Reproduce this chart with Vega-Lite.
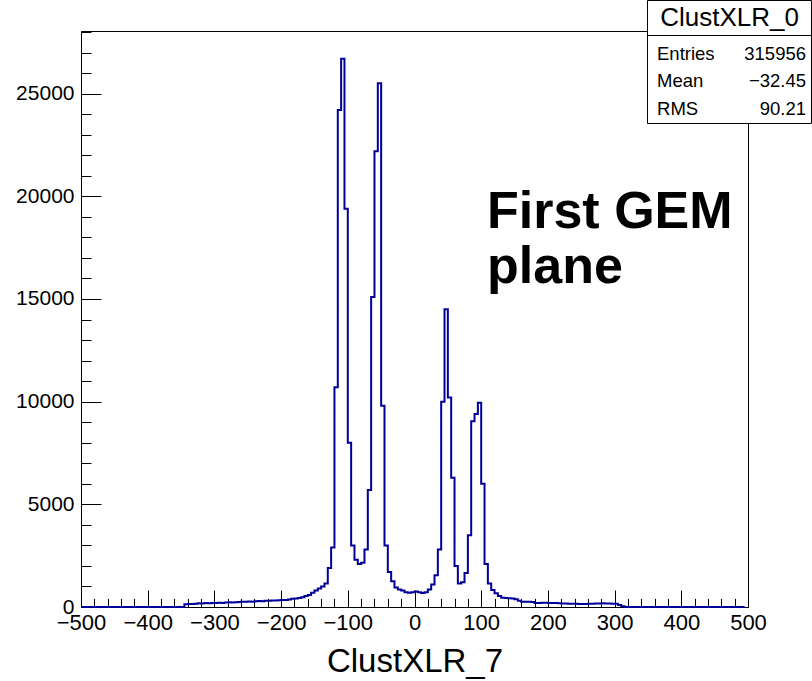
{
  "$schema": "https://vega.github.io/schema/vega-lite/v6.json",
  "width": 667,
  "height": 576,
  "autosize": {"type": "none"},
  "padding": {"left": 81, "top": 31, "right": 64, "bottom": 74},
  "background": "white",
  "config": {
    "view": {"stroke": "black", "strokeWidth": 1},
    "font": "Liberation Sans",
    "axis": {"domainColor": "black", "tickColor": "black", "labelColor": "black", "titleColor": "black", "grid": false, "labelFont": "Liberation Sans", "titleFont": "Liberation Sans", "titleFontWeight": "normal", "zindex": 1}
  },
  "datasets": {
    "hist": [
      {"x": -500, "n": 0}, {"x": -495, "n": 0}, {"x": -490, "n": 0}, {"x": -485, "n": 0}, {"x": -480, "n": 0},
      {"x": -475, "n": 0}, {"x": -470, "n": 0}, {"x": -465, "n": 0}, {"x": -460, "n": 0}, {"x": -455, "n": 0},
      {"x": -450, "n": 0}, {"x": -445, "n": 0}, {"x": -440, "n": 0}, {"x": -435, "n": 0}, {"x": -430, "n": 0},
      {"x": -425, "n": 0}, {"x": -420, "n": 0}, {"x": -415, "n": 0}, {"x": -410, "n": 0}, {"x": -405, "n": 0},
      {"x": -400, "n": 0}, {"x": -395, "n": 0}, {"x": -390, "n": 0}, {"x": -385, "n": 0}, {"x": -380, "n": 0},
      {"x": -375, "n": 0}, {"x": -370, "n": 0}, {"x": -365, "n": 0}, {"x": -360, "n": 0}, {"x": -355, "n": 0},
      {"x": -350, "n": 0}, {"x": -345, "n": 130}, {"x": -340, "n": 150}, {"x": -335, "n": 150}, {"x": -330, "n": 160},
      {"x": -325, "n": 180}, {"x": -320, "n": 170}, {"x": -315, "n": 190}, {"x": -310, "n": 180}, {"x": -305, "n": 200},
      {"x": -300, "n": 195}, {"x": -295, "n": 210}, {"x": -290, "n": 200}, {"x": -285, "n": 220}, {"x": -280, "n": 230},
      {"x": -275, "n": 215}, {"x": -270, "n": 235}, {"x": -265, "n": 240}, {"x": -260, "n": 255}, {"x": -255, "n": 250},
      {"x": -250, "n": 265}, {"x": -245, "n": 260}, {"x": -240, "n": 280}, {"x": -235, "n": 290}, {"x": -230, "n": 275},
      {"x": -225, "n": 300}, {"x": -220, "n": 310}, {"x": -215, "n": 320}, {"x": -210, "n": 315}, {"x": -205, "n": 330},
      {"x": -200, "n": 340}, {"x": -195, "n": 345}, {"x": -190, "n": 360}, {"x": -185, "n": 400}, {"x": -180, "n": 420},
      {"x": -175, "n": 440}, {"x": -170, "n": 480}, {"x": -165, "n": 540}, {"x": -160, "n": 580}, {"x": -155, "n": 700},
      {"x": -150, "n": 800}, {"x": -145, "n": 900}, {"x": -140, "n": 1000}, {"x": -135, "n": 1150}, {"x": -130, "n": 1900},
      {"x": -125, "n": 2900}, {"x": -120, "n": 10700}, {"x": -115, "n": 24200}, {"x": -110, "n": 26700}, {"x": -105, "n": 19400},
      {"x": -100, "n": 8000}, {"x": -95, "n": 3000}, {"x": -90, "n": 2300}, {"x": -85, "n": 2100}, {"x": -80, "n": 2150},
      {"x": -75, "n": 2800}, {"x": -70, "n": 5700}, {"x": -65, "n": 15100}, {"x": -60, "n": 22200}, {"x": -55, "n": 25500},
      {"x": -50, "n": 9800}, {"x": -45, "n": 3000}, {"x": -40, "n": 1700}, {"x": -35, "n": 1250}, {"x": -30, "n": 950},
      {"x": -25, "n": 850}, {"x": -20, "n": 800}, {"x": -15, "n": 720}, {"x": -10, "n": 700}, {"x": -5, "n": 720},
      {"x": 0, "n": 760}, {"x": 5, "n": 720}, {"x": 10, "n": 680}, {"x": 15, "n": 720}, {"x": 20, "n": 850},
      {"x": 25, "n": 1100}, {"x": 30, "n": 1550}, {"x": 35, "n": 2800}, {"x": 40, "n": 10000}, {"x": 45, "n": 14500},
      {"x": 50, "n": 10200}, {"x": 55, "n": 6300}, {"x": 60, "n": 2000}, {"x": 65, "n": 1150}, {"x": 70, "n": 1200},
      {"x": 75, "n": 1650}, {"x": 80, "n": 3500}, {"x": 85, "n": 9050}, {"x": 90, "n": 9400}, {"x": 95, "n": 9950},
      {"x": 100, "n": 6000}, {"x": 105, "n": 2100}, {"x": 110, "n": 1150}, {"x": 115, "n": 830}, {"x": 120, "n": 670},
      {"x": 125, "n": 540}, {"x": 130, "n": 450}, {"x": 135, "n": 440}, {"x": 140, "n": 430}, {"x": 145, "n": 420},
      {"x": 150, "n": 380}, {"x": 155, "n": 300}, {"x": 160, "n": 260}, {"x": 165, "n": 260}, {"x": 170, "n": 250},
      {"x": 175, "n": 240}, {"x": 180, "n": 200}, {"x": 185, "n": 190}, {"x": 190, "n": 210}, {"x": 195, "n": 210},
      {"x": 200, "n": 200}, {"x": 205, "n": 200}, {"x": 210, "n": 190}, {"x": 215, "n": 180}, {"x": 220, "n": 170},
      {"x": 225, "n": 170}, {"x": 230, "n": 160}, {"x": 235, "n": 160}, {"x": 240, "n": 160}, {"x": 245, "n": 150},
      {"x": 250, "n": 150}, {"x": 255, "n": 150}, {"x": 260, "n": 160}, {"x": 265, "n": 160}, {"x": 270, "n": 170},
      {"x": 275, "n": 170}, {"x": 280, "n": 180}, {"x": 285, "n": 170}, {"x": 290, "n": 170}, {"x": 295, "n": 160},
      {"x": 300, "n": 160}, {"x": 305, "n": 100}, {"x": 310, "n": 40}, {"x": 315, "n": 0}, {"x": 320, "n": 0},
      {"x": 325, "n": 0}, {"x": 330, "n": 0}, {"x": 335, "n": 0}, {"x": 340, "n": 0}, {"x": 345, "n": 0},
      {"x": 350, "n": 0}, {"x": 355, "n": 0}, {"x": 360, "n": 0}, {"x": 365, "n": 0}, {"x": 370, "n": 0},
      {"x": 375, "n": 0}, {"x": 380, "n": 0}, {"x": 385, "n": 0}, {"x": 390, "n": 0}, {"x": 395, "n": 0},
      {"x": 400, "n": 0}, {"x": 405, "n": 0}, {"x": 410, "n": 0}, {"x": 415, "n": 0}, {"x": 420, "n": 0},
      {"x": 425, "n": 0}, {"x": 430, "n": 0}, {"x": 435, "n": 0}, {"x": 440, "n": 0}, {"x": 445, "n": 0},
      {"x": 450, "n": 0}, {"x": 455, "n": 0}, {"x": 460, "n": 0}, {"x": 465, "n": 0}, {"x": 470, "n": 0},
      {"x": 475, "n": 0}, {"x": 480, "n": 0}, {"x": 485, "n": 0}, {"x": 490, "n": 0}, {"x": 495, "n": 0}
    ]
  },
  "data": {"name": "hist"},
  "resolve": {"axis": {"x": "independent", "y": "independent"}},
  "layer": [
    {
      "mark": {"type": "line", "interpolate": "step-after", "color": "#000099", "strokeWidth": 2},
      "encoding": {
        "x": {
          "field": "x", "type": "quantitative",
          "scale": {"domain": [-500, 500], "nice": false, "zero": false},
          "axis": {"orient": "bottom", "values": [-500, -400, -300, -200, -100, 0, 100, 200, 300, 400, 500], "tickSize": -17, "labelFontSize": 22, "labelPadding": 22, "labelFlush": false, "labelOverlap": false, "format": "d", "title": "ClustXLR_7", "titleFontSize": 33, "titlePadding": 12}
        },
        "y": {
          "field": "n", "type": "quantitative",
          "scale": {"domain": [0, 28050], "nice": false, "zero": true},
          "axis": {"orient": "left", "values": [0, 5000, 10000, 15000, 20000, 25000], "tickSize": -20, "labelFontSize": 21, "labelPadding": 27, "labelFlush": false, "labelOverlap": false, "format": "d", "title": null}
        }
      }
    },
    {
      "mark": {"type": "line", "interpolate": "step-after", "strokeOpacity": 0},
      "encoding": {
        "x": {
          "field": "x", "type": "quantitative",
          "axis": {"orient": "bottom", "values": [-500, -480, -460, -440, -420, -400, -380, -360, -340, -320, -300, -280, -260, -240, -220, -200, -180, -160, -140, -120, -100, -80, -60, -40, -20, 0, 20, 40, 60, 80, 100, 120, 140, 160, 180, 200, 220, 240, 260, 280, 300, 320, 340, 360, 380, 400, 420, 440, 460, 480, 500], "tickSize": -8.6, "labels": false, "domain": false, "title": null}
        },
        "y": {
          "field": "n", "type": "quantitative",
          "axis": {"orient": "left", "values": [0, 1000, 2000, 3000, 4000, 5000, 6000, 7000, 8000, 9000, 10000, 11000, 12000, 13000, 14000, 15000, 16000, 17000, 18000, 19000, 20000, 21000, 22000, 23000, 24000, 25000, 26000, 27000, 28000], "tickSize": -10, "labels": false, "domain": false, "title": null}
        }
      }
    },
    {
      "data": {"values": [{}]},
      "mark": {"type": "text", "text": "First GEM\nplane", "lineBreak": "\n", "lineHeight": 55, "font": "Liberation Sans", "fontWeight": "bold", "fontSize": 52, "align": "left", "baseline": "alphabetic", "color": "black"},
      "encoding": {
        "x": {"datum": 108.7, "type": "quantitative", "axis": null},
        "y": {"datum": 18457, "type": "quantitative", "axis": null}
      }
    },
    {
      "data": {"values": [{}]},
      "mark": {"type": "rect", "fill": "white", "stroke": "black", "strokeWidth": 1},
      "encoding": {
        "x": {"datum": 349.3, "type": "quantitative", "axis": null},
        "x2": {"datum": 595.2},
        "y": {"datum": 29535, "type": "quantitative", "axis": null},
        "y2": {"datum": 23546}
      }
    },
    {
      "data": {"values": [{}]},
      "mark": {"type": "rule", "stroke": "black", "strokeWidth": 1},
      "encoding": {
        "x": {"datum": 349.3, "type": "quantitative", "axis": null},
        "x2": {"datum": 595.2},
        "y": {"datum": 27831, "type": "quantitative", "axis": null}
      }
    },
    {
      "data": {"values": [{}]},
      "mark": {"type": "text", "text": "ClustXLR_0", "font": "Liberation Sans", "fontSize": 26, "align": "center", "baseline": "middle", "color": "black"},
      "encoding": {
        "x": {"datum": 472.3, "type": "quantitative", "axis": null},
        "y": {"datum": 28683, "type": "quantitative", "axis": null}
      }
    },
    {
      "data": {"values": [{}]},
      "mark": {"type": "text", "text": "Entries\nMean\nRMS", "lineBreak": "\n", "lineHeight": 27.5, "font": "Liberation Sans", "fontSize": 18.5, "align": "left", "baseline": "middle", "color": "black"},
      "encoding": {
        "x": {"datum": 363.6, "type": "quantitative", "axis": null},
        "y": {"datum": 26930, "type": "quantitative", "axis": null}
      }
    },
    {
      "data": {"values": [{}]},
      "mark": {"type": "text", "text": "315956\n−32.45\n90.21", "lineBreak": "\n", "lineHeight": 27.5, "font": "Liberation Sans", "fontSize": 18.5, "align": "right", "baseline": "middle", "color": "black"},
      "encoding": {
        "x": {"datum": 587.0, "type": "quantitative", "axis": null},
        "y": {"datum": 26930, "type": "quantitative", "axis": null}
      }
    }
  ]
}
